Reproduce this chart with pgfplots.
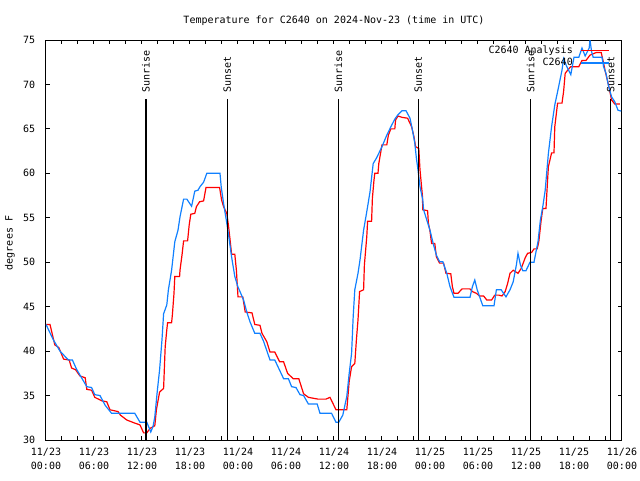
\documentclass[border=0pt]{standalone}
\usepackage{pgfplots}
\pgfplotsset{compat=1.18}
\usepackage{fontspec}
\setmainfont{DejaVu Sans Mono}
\definecolor{obsblue}{RGB}{16,128,255}
\definecolor{anared}{RGB}{255,0,0}
\begin{document}
\begin{tikzpicture}[font=\fontsize{7.5}{10.5}\selectfont]
\path[use as bounding box] (-34.5pt,-30pt) rectangle (445.5pt,330pt);
\begin{axis}[
  at={(0,0)}, anchor=south west,
  scale only axis, width=432pt, height=300pt,
  xmin=0, xmax=72, ymin=30, ymax=75,
  axis line style={line width=0.75pt},
  xtick={0,6,...,72},
  minor xtick={0,2,...,72},
  ytick={30,35,...,75},
  tick align=inside,
  major tick length=3pt, minor tick length=3pt,
  every tick/.style={black, line width=0.75pt},
  xticklabels={{11/23\\[0.6pt]00:00},{11/23\\[0.6pt]06:00},{11/23\\[0.6pt]12:00},{11/23\\[0.6pt]18:00},{11/24\\[0.6pt]00:00},{11/24\\[0.6pt]06:00},{11/24\\[0.6pt]12:00},{11/24\\[0.6pt]18:00},{11/25\\[0.6pt]00:00},{11/25\\[0.6pt]06:00},{11/25\\[0.6pt]12:00},{11/25\\[0.6pt]18:00},{11/26\\[0.6pt]00:00}},
  xticklabel style={align=center, inner sep=0pt, yshift=-5.5pt, font=\fontsize{7.5}{10.5}\selectfont},
  yticklabel style={inner sep=0pt, xshift=-8pt},
  /pgf/number format/assume math mode=true,
  legend plot pos=right,
  legend cell align=right,
  legend style={draw=none, fill=none, at={(1,1)}, anchor=north east,
    xshift=-9pt, yshift=-4.5pt, inner sep=0pt, outer sep=0pt,
    nodes={inner sep=0pt, text height=5.5pt, text depth=1.5pt},
    row sep=2.25pt, column sep=6pt},
  legend image code/.code={\draw[#1] (0pt,0pt) -- (21pt,0pt);},
]
\addplot[anared, line width=0.9pt] table {
0 43.0
0.5 43.0
1.1 40.7
1.6 40.4
2.2 39.1
2.9 39.0
3.2 38.1
3.7 37.9
4.25 37.2
4.9 37.0
5.1 35.7
5.7 35.6
6.1 34.8
7.0 34.4
7.6 34.3
8.0 33.4
9.0 33.2
9.3 32.8
10.1 32.25
11.1 31.9
11.75 31.7
12.2 30.8
12.6 30.8
13.0 31.3
13.6 31.6
13.8 33.4
14.2 35.4
14.7 35.8
14.9 40.5
15.1 42.4
15.2 43.2
15.7 43.2
15.8 44.1
16.0 46.5
16.1 48.4
16.7 48.4
16.75 49.1
17.0 50.8
17.2 52.4
17.7 52.4
17.9 54.2
18.1 55.4
18.6 55.5
18.8 56.25
19.2 56.8
19.7 56.9
20.0 58.4
21.7 58.4
21.95 57.0
22.2 56.25
22.6 55.5
22.8 54.2
23.0 52.6
23.2 50.9
23.6 50.9
23.8 49.1
24.0 46.1
24.6 46.1
24.9 44.4
25.75 44.3
26.1 43.0
26.75 42.9
27.0 42.0
27.6 41.06
28.0 39.9
28.6 39.9
29.2 38.8
29.7 38.8
30.2 37.5
30.9 36.9
31.6 36.9
32.2 35.2
32.8 34.8
34.0 34.6
35.0 34.6
35.5 34.8
36.25 33.4
37.6 33.4
37.9 36.6
38.2 38.25
38.6 38.6
38.8 41.25
39.0 43.5
39.2 46.7
39.7 46.9
39.8 49.7
40.1 52.9
40.2 54.6
40.7 54.6
40.8 57.2
41.0 59.25
41.1 60.0
41.5 60.0
41.6 61.1
42.0 63.2
42.6 63.2
42.8 64.3
43.1 65.0
43.6 65.0
43.7 66.0
44.0 66.45
44.5 66.3
45.2 66.2
45.7 65.25
46.0 64.1
46.2 63.0
46.6 62.8
46.75 60.4
47.05 57.5
47.1 55.9
47.7 55.8
47.8 54.4
48.0 53.5
48.2 52.1
48.6 52.1
48.8 50.6
49.2 49.9
49.7 49.9
50.0 48.75
50.6 48.7
50.8 47.25
51.0 46.5
51.5 46.5
52.0 47.0
53.0 47.0
53.3 46.7
53.8 46.5
54.2 46.2
54.7 46.2
55.1 45.75
55.7 45.75
56.1 46.3
56.6 46.3
57.0 46.2
57.4 46.7
57.7 47.6
58.0 48.75
58.4 49.1
59.0 48.75
59.4 49.3
59.9 50.5
60.2 51.0
60.7 51.1
61.0 51.5
61.4 51.5
61.6 52.3
61.9 54.75
62.1 56.05
62.5 56.05
62.7 59.25
62.8 60.75
63.2 62.3
63.5 62.3
63.6 65.25
63.95 67.9
64.5 67.9
64.7 69.2
64.9 71.25
65.3 71.7
65.6 72.0
66.6 72.0
67.0 72.7
67.5 72.7
68.0 73.3
68.8 73.6
69.4 73.6
69.7 72.4
69.9 71.5
70.3 70.0
70.7 68.25
71.1 67.8
71.75 67.8
};
\addlegendentry{C2640 Analysis}
\addplot[obsblue, line width=0.9pt] table {
0 43.0
0.9 41.3
1.75 40.0
2.8 39.0
3.3 39.0
3.8 38.0
4.25 37.3
5.1 36.0
5.7 35.9
6.1 35.1
6.75 35.0
7.4 33.9
8.2 33.0
11.1 33.0
11.75 32.0
12.6 32.0
13.1 30.9
13.4 31.6
13.6 32.6
13.9 35.4
14.2 37.9
14.5 41.3
14.7 44.2
15.1 45.2
15.3 46.9
15.7 49.1
16.1 52.3
16.5 53.6
16.75 55.1
17.2 57.1
17.6 57.1
18.2 56.3
18.6 58.0
19.0 58.1
19.25 58.5
19.7 59.0
20.1 60.0
21.75 60.0
21.9 58.5
22.2 56.6
22.6 54.4
22.8 53.2
23.2 50.6
23.6 48.4
24.0 47.2
24.25 46.7
24.7 45.75
25.1 44.4
25.5 43.3
26.1 42.0
26.75 42.0
27.2 41.1
28.0 39.0
28.6 39.0
29.7 36.9
30.3 36.9
30.7 36.0
31.25 35.9
31.75 35.1
32.2 35.0
32.8 34.05
33.9 34.05
34.25 33.0
35.7 33.0
36.25 32.0
36.6 32.0
37.1 32.8
37.6 34.9
37.9 37.5
38.2 39.75
38.4 43.9
38.6 46.9
39.0 48.75
39.25 50.25
39.7 53.6
40.1 55.7
40.5 57.9
40.9 61.1
41.3 61.7
42.0 63.0
42.6 64.3
43.2 65.4
43.6 66.1
44.0 66.6
44.5 67.05
45.0 67.05
45.5 66.2
45.8 64.9
46.1 63.4
46.3 61.7
46.5 60.4
46.75 58.5
47.1 57.0
47.2 55.9
47.6 54.75
48.0 53.6
48.4 52.1
48.8 50.8
49.2 50.06
49.6 50.06
50.1 48.75
50.5 47.25
51.0 46.05
53.0 46.05
53.3 47.25
53.6 48.0
53.9 46.9
54.6 45.1
56.0 45.1
56.3 46.9
56.9 46.9
57.5 46.1
58.0 46.9
58.4 47.8
58.8 49.7
59.0 51.0
59.3 49.7
59.6 49.05
60.0 49.05
60.5 50.0
61.0 50.0
61.3 51.4
61.5 52.3
61.8 54.75
62.1 56.25
62.4 58.1
62.8 62.25
63.2 65.25
63.6 67.7
64.0 69.4
64.5 71.6
64.7 72.9
65.1 72.0
65.6 71.1
66.0 73.05
66.6 73.05
67.0 74.1
67.4 73.2
67.9 74.1
68.0 75.0
68.2 73.7
68.4 73.05
69.5 73.05
69.7 72.0
70.0 71.25
70.3 69.9
70.7 68.6
71.1 68.05
71.5 67.1
71.9 67.0
};
\addlegendentry{C2640}
\addplot[black, line width=0.9pt, forget plot] coordinates {(12.5,30) (12.5,68.4)};
\addplot[black, line width=0.9pt, forget plot] coordinates {(22.67,30) (22.67,68.4)};
\addplot[black, line width=0.9pt, forget plot] coordinates {(36.54,30) (36.54,68.4)};
\addplot[black, line width=0.9pt, forget plot] coordinates {(46.54,30) (46.54,68.4)};
\addplot[black, line width=0.9pt, forget plot] coordinates {(60.58,30) (60.58,68.4)};
\addplot[black, line width=0.9pt, forget plot] coordinates {(70.58,30) (70.58,68.4)};
\node[rotate=90, anchor=west, inner sep=0pt] at (axis cs:12.5,69.1) {Sunrise};
\node[rotate=90, anchor=west, inner sep=0pt] at (axis cs:22.67,69.1) {Sunset};
\node[rotate=90, anchor=west, inner sep=0pt] at (axis cs:36.54,69.1) {Sunrise};
\node[rotate=90, anchor=west, inner sep=0pt] at (axis cs:46.54,69.1) {Sunset};
\node[rotate=90, anchor=west, inner sep=0pt] at (axis cs:60.58,69.1) {Sunrise};
\node[rotate=90, anchor=west, inner sep=0pt] at (axis cs:70.58,69.1) {Sunset};
\end{axis}
\node at (216pt,314.25pt) {Temperature for C2640 on 2024-Nov-23 (time in UTC)};
\node[rotate=90] at (-27pt,147.75pt) {degrees F};
\end{tikzpicture}
\end{document}
